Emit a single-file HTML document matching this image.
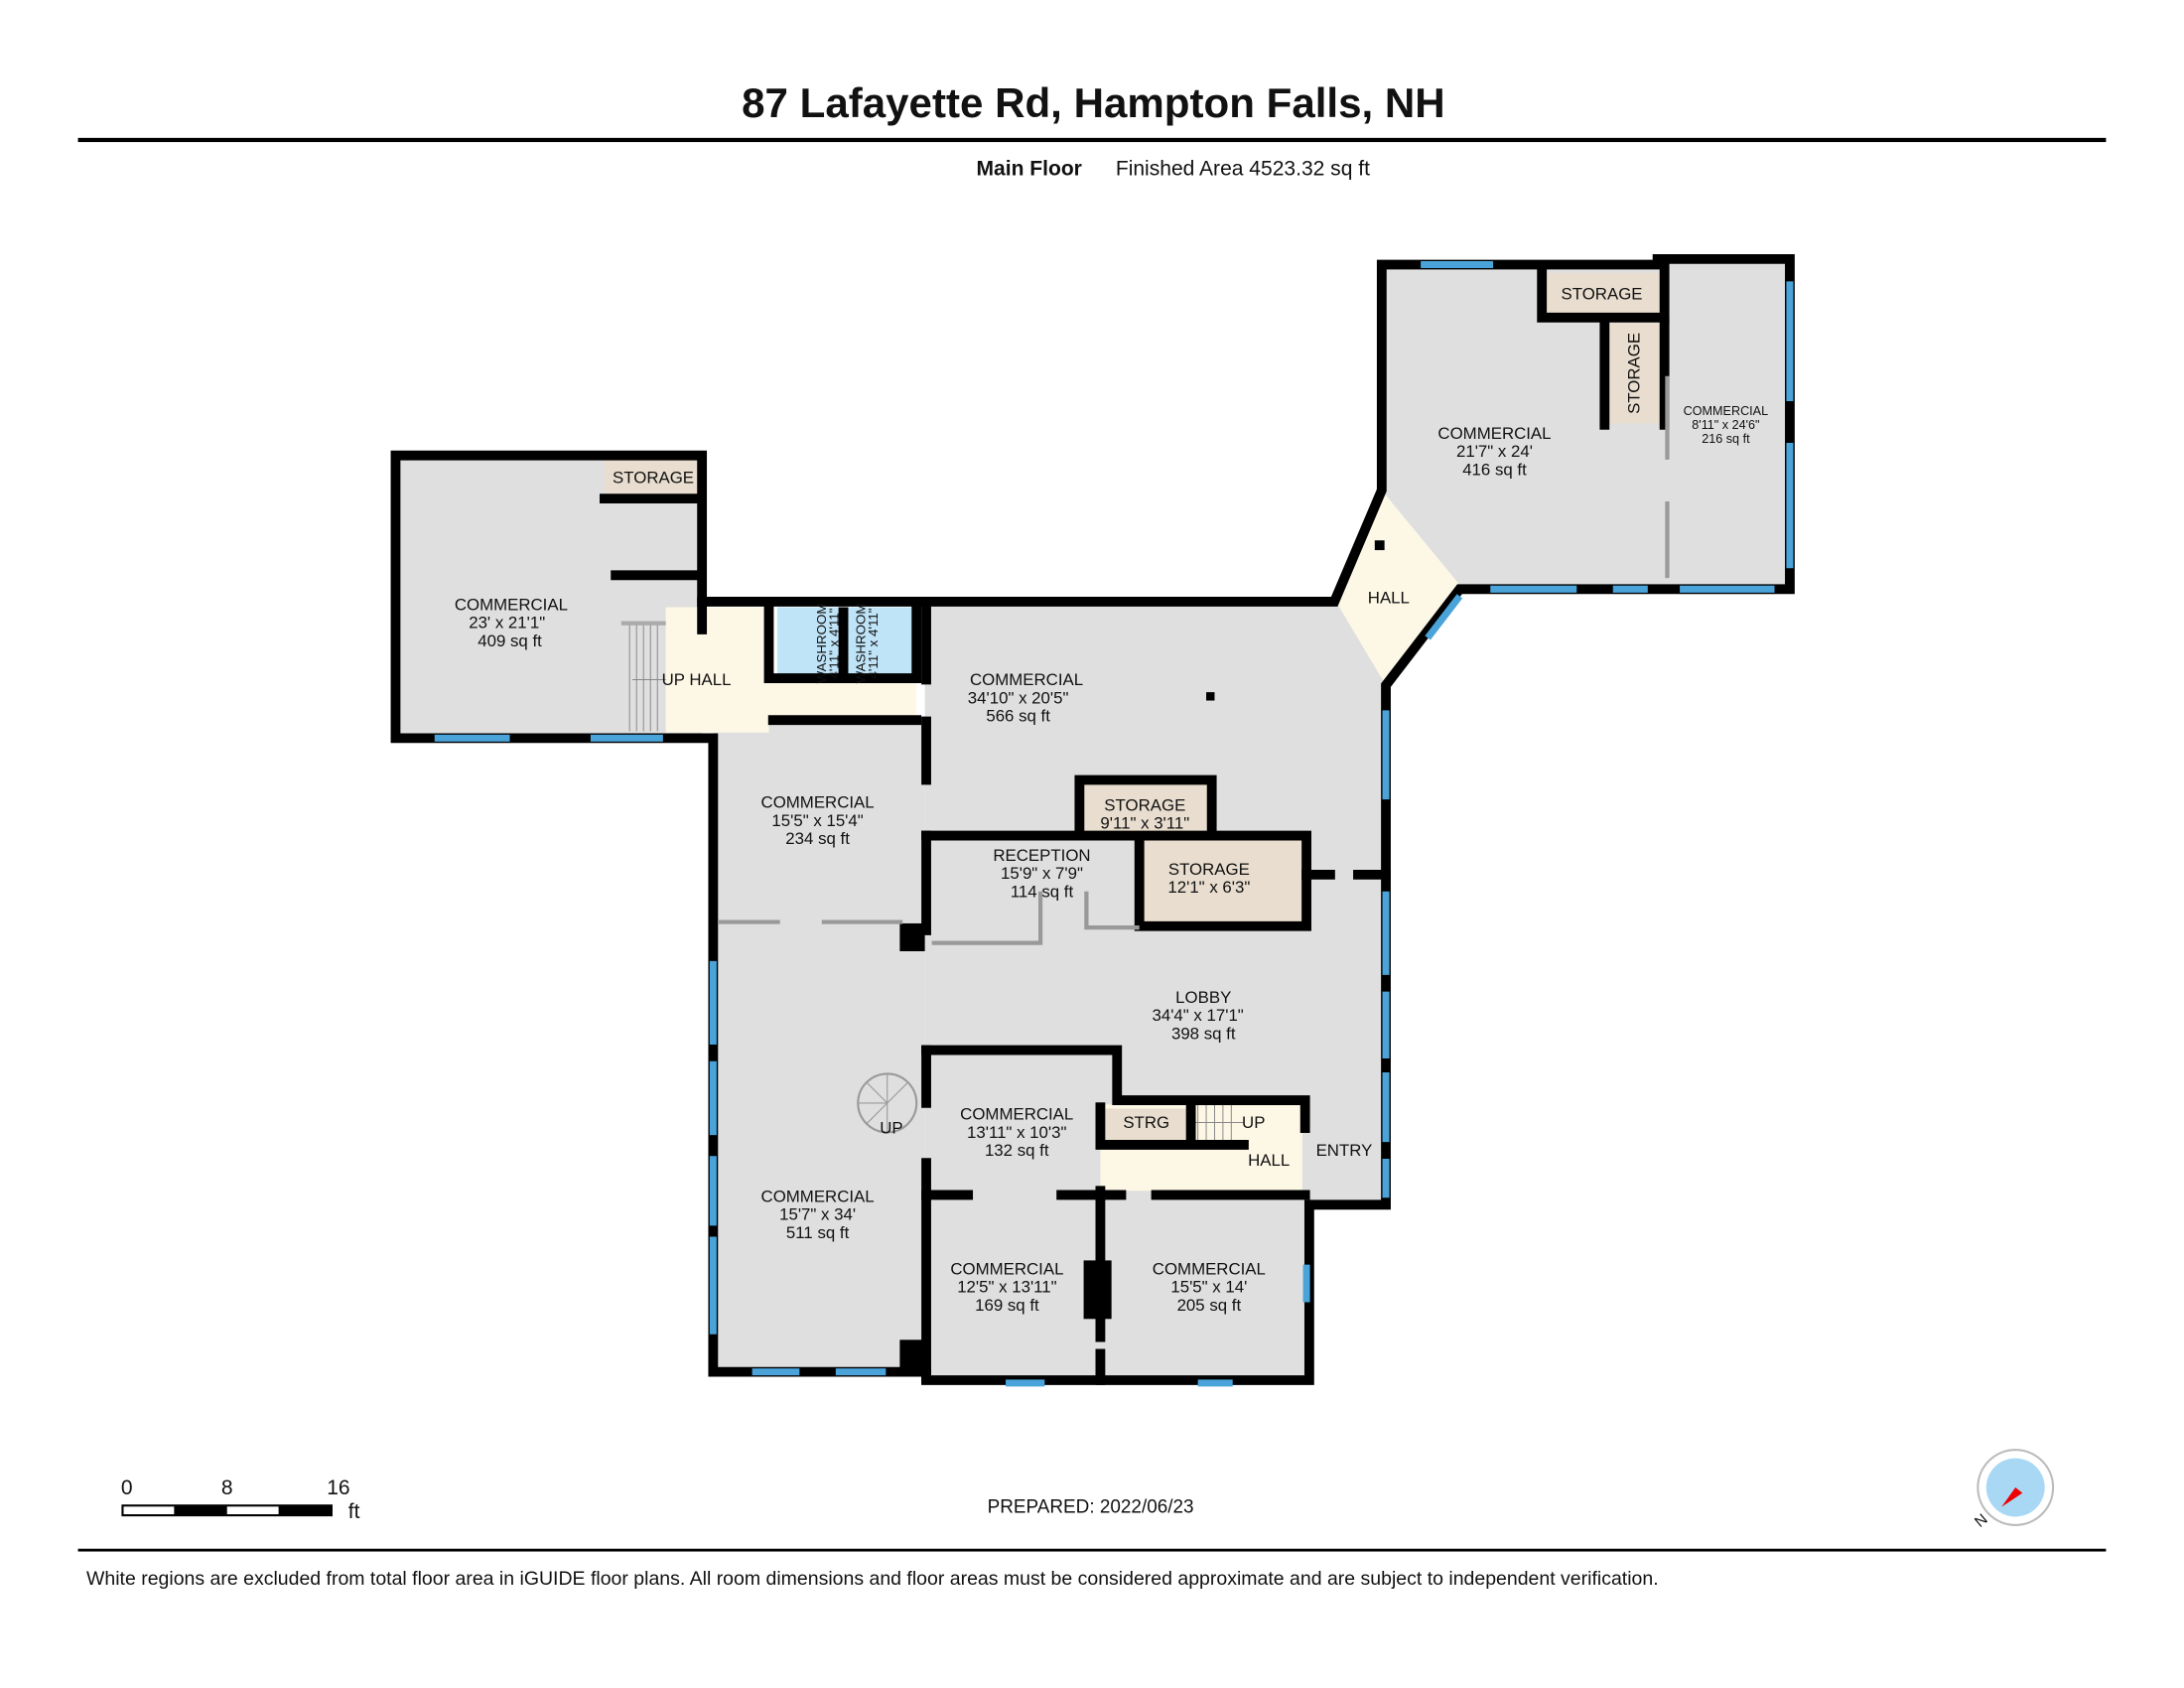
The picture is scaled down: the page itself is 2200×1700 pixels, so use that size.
<!DOCTYPE html>
<html><head><meta charset="utf-8"><style>
html,body{margin:0;padding:0;background:#fff}
svg{display:block}
text{font-family:"Liberation Sans",Arial,sans-serif;fill:#111}
.l{font-size:12px;text-anchor:middle}
.s{font-size:9px;text-anchor:middle}
</style></head><body>
<svg width="2200" height="1700" viewBox="0 0 1568 1212" preserveAspectRatio="none" xmlns="http://www.w3.org/2000/svg">
<rect width="1568" height="1212" fill="#fff"/>
<text x="785" y="84" style="font-size:30px;font-weight:bold;text-anchor:middle">87 Lafayette Rd, Hampton Falls, NH</text>
<rect x="56" y="99" width="1456" height="3" fill="#000"/>
<text x="701" y="126" style="font-size:15px;font-weight:bold">Main Floor</text>
<text x="801" y="126" style="font-size:15px">Finished Area 4523.32 sq ft</text>

<g fill="#dfdfdf">
<rect x="284" y="327" width="220" height="201"/>
<rect x="664" y="432" width="330" height="170"/>
<rect x="512" y="517" width="152" height="470"/>
<rect x="664" y="600" width="330" height="268"/>
<rect x="664" y="855" width="275" height="136"/>
<polygon points="992,190 1285,188 1285,423 1048,423 992,352"/>
</g>
<g fill="#fdf8e6">
<polygon points="478,436 548,436 548,487 658,487 658,517 552,517 552,526 478,526"/>
<polygon points="992,352 1048,420 995,492 958,430"/>
<rect x="790" y="793" width="145" height="62"/>
</g>
<rect x="558" y="436" width="100" height="51" fill="#bfe3f7"/>
<rect x="602" y="436" width="7" height="51" fill="#000"/>
<g fill="#e8ddce">
<rect x="434" y="330" width="68" height="28"/>
<rect x="1107" y="196" width="88" height="32"/>
<rect x="1152" y="232" width="43" height="72"/>
<rect x="777" y="560" width="92" height="38"/>
<rect x="820" y="603" width="116" height="60"/>
<rect x="792" y="796" width="60" height="24"/>
</g>
<g stroke="#888" stroke-width="0.7">
<line x1="452" y1="447" x2="452" y2="525"/><line x1="457" y1="447" x2="457" y2="525"/><line x1="462" y1="447" x2="462" y2="525"/><line x1="467" y1="447" x2="467" y2="525"/><line x1="472" y1="447" x2="472" y2="525"/>
<line x1="860" y1="793" x2="860" y2="820"/><line x1="866" y1="793" x2="866" y2="820"/><line x1="872" y1="793" x2="872" y2="820"/><line x1="878" y1="793" x2="878" y2="820"/><line x1="884" y1="793" x2="884" y2="820"/>
<line x1="855" y1="806" x2="893" y2="806"/>
<line x1="454" y1="488" x2="478" y2="488"/>
</g>
<rect x="446" y="446" width="32" height="3" fill="#aaa"/>
<circle cx="637" cy="792" r="21" fill="none" stroke="#999" stroke-width="1.5"/>
<g stroke="#999" stroke-width="0.8"><line x1="637" y1="792" x2="616" y2="792"/><line x1="637" y1="792" x2="622" y2="777"/><line x1="637" y1="792" x2="637" y2="771"/><line x1="637" y1="792" x2="652" y2="777"/><line x1="637" y1="792" x2="622" y2="807"/><line x1="637" y1="792" x2="637" y2="813"/></g>

<g fill="none" stroke="#000" stroke-width="7" stroke-linecap="square">
<path d="M284,327 H504 V432 H958 L992,352 V190 H1190 V186 H1285 V423 H1048 L995,492 V865 H940 V991 H665 V985 H512 V530 H284 Z"/>
<path d="M504,432 V452"/>
<path d="M434,358 H502"/>
<path d="M442,413 H502"/>
<path d="M1107,196 V228 H1195 V190"/>
<path d="M1152,232 V305 M1195,232 V305"/>
<path d="M665,432 V488 M665,518 V560 M665,600 V668 M665,754 V792"/>
<path d="M665,835 V990"/>
<path d="M555,517 H658"/>
<path d="M552,436 V487 H658 M658,436 V487"/>
<path d="M665,600 H938 V665 H818 V600 M818,640 V665"/>
<path d="M938,628 H955 M975,628 H995"/>
<path d="M775,598 V560 H870 V598"/>
<path d="M665,754 H802 V790 H937 V810"/>
<path d="M790,795 V822 H855 M855,795 V822 H893"/>
<path d="M665,858 H695 M762,858 H790"/>
<path d="M790,858 H805 M830,858 H937"/>
<path d="M790,855 V960 M790,972 V991"/>
</g>
<rect x="778" y="905" width="20" height="42" fill="#000"/>
<rect x="646" y="663" width="18" height="20" fill="#000"/>
<rect x="646" y="962" width="18" height="24" fill="#000"/>
<rect x="987" y="388" width="7" height="7" fill="#000"/>
<rect x="866" y="497" width="6" height="6" fill="#000"/>
<g stroke="#999" stroke-width="3" fill="none">
<path d="M516,662 H560 M590,662 H648"/>
<path d="M669,677 H747 V640"/>
<path d="M780,640 V666 H818"/>
<path d="M1197,270 V330 M1197,360 V415"/>
</g>
<g stroke="#4aa3d9" stroke-width="5">
<line x1="312" y1="530" x2="366" y2="530"/><line x1="424" y1="530" x2="476" y2="530"/>
<line x1="1020" y1="190" x2="1072" y2="190"/>
<line x1="1285" y1="202" x2="1285" y2="288"/><line x1="1285" y1="318" x2="1285" y2="408"/>
<line x1="1070" y1="423" x2="1132" y2="423"/><line x1="1158" y1="423" x2="1183" y2="423"/><line x1="1206" y1="423" x2="1274" y2="423"/>
<line x1="1048" y1="428" x2="1025" y2="458"/>
<line x1="995" y1="510" x2="995" y2="574"/><line x1="995" y1="640" x2="995" y2="700"/><line x1="995" y1="712" x2="995" y2="760"/><line x1="995" y1="770" x2="995" y2="820"/><line x1="995" y1="832" x2="995" y2="860"/>
<line x1="512" y1="690" x2="512" y2="750"/><line x1="512" y1="762" x2="512" y2="815"/><line x1="512" y1="830" x2="512" y2="880"/><line x1="512" y1="888" x2="512" y2="958"/>
<line x1="540" y1="985" x2="574" y2="985"/><line x1="600" y1="985" x2="636" y2="985"/>
<line x1="722" y1="993" x2="750" y2="993"/><line x1="860" y1="993" x2="885" y2="993"/>
<line x1="938" y1="908" x2="938" y2="935"/>
</g>

<text class="l" x="367" y="438">COMMERCIAL</text><text class="l" x="364" y="451">23' x 21'1"</text><text class="l" x="366" y="464">409 sq ft</text>
<text class="l" x="469" y="347">STORAGE</text>
<text class="l" x="500" y="492">UP HALL</text>
<text class="l" x="737" y="492">COMMERCIAL</text><text class="l" x="731" y="505">34'10" x 20'5"</text><text class="l" x="731" y="518">566 sq ft</text>
<text class="l" x="587" y="580">COMMERCIAL</text><text class="l" x="587" y="593">15'5" x 15'4"</text><text class="l" x="587" y="606">234 sq ft</text>
<text class="l" x="822" y="582">STORAGE</text><text class="l" x="822" y="595">9'11" x 3'11"</text>
<text class="l" x="748" y="618">RECEPTION</text><text class="l" x="748" y="631">15'9" x 7'9"</text><text class="l" x="748" y="644">114 sq ft</text>
<text class="l" x="868" y="628">STORAGE</text><text class="l" x="868" y="641">12'1" x 6'3"</text>
<text class="l" x="864" y="720">LOBBY</text><text class="l" x="860" y="733">34'4" x 17'1"</text><text class="l" x="864" y="746">398 sq ft</text>
<text class="l" x="730" y="804">COMMERCIAL</text><text class="l" x="730" y="817">13'11" x 10'3"</text><text class="l" x="730" y="830">132 sq ft</text>
<text class="l" x="823" y="810">STRG</text>
<text class="l" x="900" y="810">UP</text>
<text class="l" x="911" y="837">HALL</text>
<text class="l" x="965" y="830">ENTRY</text>
<text class="l" x="640" y="814">UP</text>
<text class="l" x="587" y="863">COMMERCIAL</text><text class="l" x="587" y="876">15'7" x 34'</text><text class="l" x="587" y="889">511 sq ft</text>
<text class="l" x="723" y="915">COMMERCIAL</text><text class="l" x="723" y="928">12'5" x 13'11"</text><text class="l" x="723" y="941">169 sq ft</text>
<text class="l" x="868" y="915">COMMERCIAL</text><text class="l" x="868" y="928">15'5" x 14'</text><text class="l" x="868" y="941">205 sq ft</text>
<text class="l" x="997" y="433">HALL</text>
<text class="l" x="1073" y="315">COMMERCIAL</text><text class="l" x="1073" y="328">21'7" x 24'</text><text class="l" x="1073" y="341">416 sq ft</text>
<text class="l" x="1150" y="215">STORAGE</text>
<text class="l" transform="translate(1177,268) rotate(-90)">STORAGE</text>
<text class="s" x="1239" y="298">COMMERCIAL</text><text class="s" x="1239" y="308">8'11" x 24'6"</text><text class="s" x="1239" y="318">216 sq ft</text>
<text style="font-size:9.5px;text-anchor:middle" transform="translate(593,462) rotate(-90)">WASHROOM</text>
<text style="font-size:9.5px;text-anchor:middle" transform="translate(602,462) rotate(-90)">4'11" x 4'11"</text>
<text style="font-size:9.5px;text-anchor:middle" transform="translate(621,462) rotate(-90)">WASHROOM</text>
<text style="font-size:9.5px;text-anchor:middle" transform="translate(630,462) rotate(-90)">4'11" x 4'11"</text>

<text x="91" y="1073" style="font-size:15px;text-anchor:middle">0</text>
<text x="163" y="1073" style="font-size:15px;text-anchor:middle">8</text>
<text x="243" y="1073" style="font-size:15px;text-anchor:middle">16</text>
<text x="250" y="1090" style="font-size:15px">ft</text>
<rect x="88" y="1081" width="150" height="7" fill="#fff" stroke="#000" stroke-width="1.5"/>
<rect x="125" y="1081" width="38" height="7" fill="#000"/>
<rect x="200" y="1081" width="38" height="7" fill="#000"/>
<text x="783" y="1086" style="font-size:13.5px;text-anchor:middle">PREPARED: 2022/06/23</text>
<circle cx="1447" cy="1068" r="27" fill="#fff" stroke="#bbb" stroke-width="1.5"/>
<circle cx="1447" cy="1068" r="21" fill="#a9d8f5"/>
<polygon points="1447,1068 1437,1082 1452,1072" fill="#e00"/>
<text x="1419" y="1098" style="font-size:11px" transform="rotate(-40 1419 1094)">N</text>

<rect x="56" y="1112" width="1456" height="2" fill="#000"/>
<text x="62" y="1138" style="font-size:13.9px">White regions are excluded from total floor area in iGUIDE floor plans. All room dimensions and floor areas must be considered approximate and are subject to independent verification.</text>
</svg>
</body></html>
